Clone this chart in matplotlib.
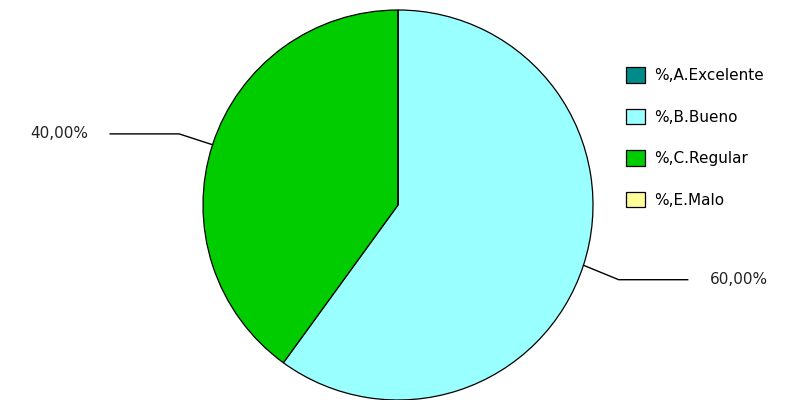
import numpy as np
import matplotlib.pyplot as plt

categories = ['%,A.Excelente', '%,B.Bueno', '%,C.Regular', '%,E.Malo']
values = [0, 60, 40, 0]
colors = ['#008B8B', '#99FFFF', '#00CC00', '#FFFF99']

fig = plt.figure(figsize=(7.97, 4.0), dpi=100)
ax = fig.add_axes([0, 0, 1, 1])

cx, cy, r = 398, 195, 195
wedges, _ = ax.pie(values, colors=colors, startangle=90, counterclock=False,
                   center=(cx, cy), radius=r, frame=True,
                   wedgeprops=dict(edgecolor='black', linewidth=0.9))
ax.set_xlim(0, 797)
ax.set_ylim(0, 400)
ax.set_aspect('equal')
ax.axis('off')

# labels with leader lines for non-zero slices
total = sum(values)
for w, v in zip(wedges, values):
    if v == 0:
        continue
    mid = np.deg2rad((w.theta1 + w.theta2) / 2)
    dx, dy = np.cos(mid), np.sin(mid)
    x0, y0 = cx + r * dx, cy + r * dy
    k = 1.18 if dx < 0 else 1.19
    x1, y1 = cx + r * k * dx, cy + r * k * dy - (0 if dx < 0 else 3)
    side = np.sign(dx)
    x2 = x1 + side * 69
    ax.plot([x0, x1, x2], [y0, y1, y1], color='black', lw=1)
    txt = f'{v / total * 100:.2f}%'.replace('.', ',')
    ax.text(x2 + side * 22, y1, txt, ha='right' if side < 0 else 'left',
            va='center', fontsize=11, color='#222222')

ax.legend(wedges, categories, loc='upper left', bbox_to_anchor=(0.786, 0.832),
          frameon=False, fontsize=11, handlelength=1.2, handleheight=1.2,
          handletextpad=0.6, labelspacing=1.67, borderpad=0, borderaxespad=0)

fig.savefig('out.png', dpi=100)
